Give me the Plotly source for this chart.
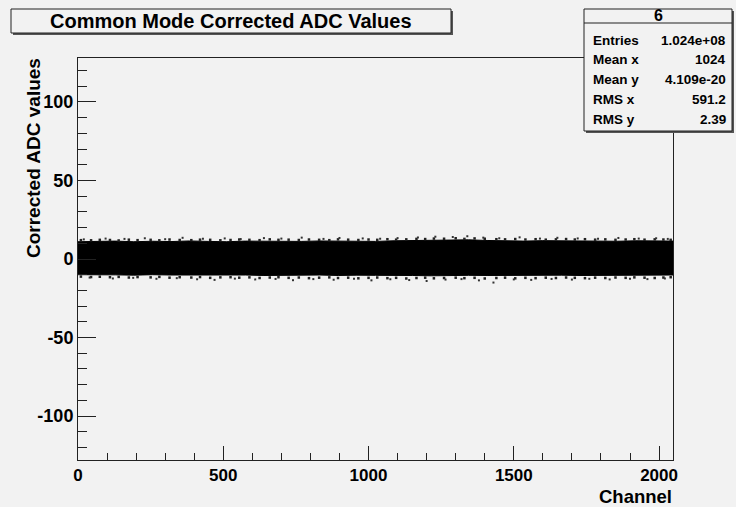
import plotly.graph_objects as go

# ---- data ----
env_channel = [0, 64, 128, 192, 256, 320, 384, 448, 512, 576, 640, 704, 768, 832, 896, 960,
               1024, 1088, 1152, 1216, 1280, 1344, 1408, 1472, 1536, 1600, 1664, 1728, 1792,
               1856, 1920, 1984, 2048]
env_upper = [11.0, 11.2, 11.4, 11.0, 11.3, 11.1, 11.5, 11.2, 11.0, 11.4, 11.3, 11.6, 11.2, 11.5,
             11.3, 11.4, 11.2, 11.6, 11.8, 12.0, 11.9, 12.2, 11.8, 11.6, 11.4, 11.7, 11.5, 11.6,
             11.4, 11.3, 11.6, 11.5, 11.4]
env_lower = [-10.0, -10.2, -10.1, -10.3, -10.0, -10.2, -10.4, -10.1, -10.3, -10.2, -10.5, -10.3,
             -10.4, -10.2, -10.5, -10.3, -10.4, -10.6, -10.5, -10.7, -10.6, -10.4, -10.5, -10.3,
             -10.6, -10.4, -10.3, -10.5, -10.4, -10.2, -10.4, -10.3, -10.2]
out_channel = [20, 95, 160, 230, 300, 360, 430, 505, 560, 640, 700, 770, 845, 900, 980, 1040,
               1100, 1170, 1230, 1290, 1340, 1395, 1450, 1520, 1590, 1650, 1720, 1790, 1860,
               1930, 1990, 2030,
               40, 120, 190, 270, 340, 410, 470, 540, 610, 680, 740, 810, 880, 950, 1010, 1075,
               1140, 1200, 1265, 1320, 1380, 1430, 1500, 1560, 1630, 1700, 1760, 1830, 1900,
               1960, 2020]
out_value = [12.5, 13.0, 12.8, 13.2, 12.6, 13.5, 12.9, 13.1, 12.7, 13.3, 13.0, 13.6, 12.8, 13.4,
             13.1, 12.9, 13.3, 13.7, 14.2, 14.0, 14.5, 13.6, 13.2, 13.8, 13.0, 13.5, 13.1, 12.9,
             13.4, 13.0, 13.2, 12.8,
             -11.8, -12.4, -12.0, -12.6, -12.2, -12.9, -13.3, -12.5, -13.0, -12.7, -13.5, -12.8,
             -13.2, -12.6, -13.6, -12.9, -13.4, -14.0, -13.1, -12.8, -13.6, -15.0, -13.0,
             -13.3, -12.7, -13.1, -12.6, -13.0, -12.5, -12.8, -12.4]
edge_channel = [10, 45, 75, 110, 140, 175, 205, 250, 280, 315, 350, 390, 420, 455, 490, 525,
                555, 590, 625, 660, 690, 725, 760, 795, 830, 865, 895, 930, 965, 1000, 1030,
                1065, 1095, 1130, 1165, 1195, 1225, 1260, 1300, 1330, 1365, 1400, 1440, 1470,
                1505, 1540, 1575, 1610, 1645, 1680, 1710, 1745, 1780, 1815, 1850, 1885, 1915,
                1950, 1985, 2015, 2040]
edge_upper = [12.0, 11.9, 12.2, 12.1, 11.8, 12.3, 12.0, 12.2, 11.9, 12.4, 12.1, 12.0, 12.3, 12.2,
              11.9, 12.1, 12.4, 12.2, 12.0, 12.5, 12.2, 12.3, 12.1, 12.4, 12.2, 12.0, 12.5, 12.3,
              12.1, 12.4, 12.2, 12.6, 12.3, 12.5, 12.8, 12.7, 13.0, 12.9, 13.2, 12.8, 13.1,
              12.9, 12.6, 12.5, 12.7, 12.4, 12.6, 12.3, 12.5, 12.7, 12.4, 12.6, 12.3, 12.5,
              12.2, 12.4, 12.6, 12.3, 12.5, 12.4, 12.2]
edge_lower = [-11.2, -11.5, -11.3, -11.6, -11.4, -11.8, -11.5, -11.7, -11.4, -11.9, -11.6, -11.8,
              -11.5, -12.0, -11.7, -11.6, -11.9, -11.7, -12.1, -11.8, -11.6, -12.0, -11.8,
              -12.2, -11.9, -11.7, -12.1, -11.9, -12.3, -12.0, -11.8, -12.2, -12.0, -12.4,
              -12.1, -11.9, -12.3, -12.1, -11.9, -12.2, -12.0, -12.4, -12.1, -11.9, -12.3,
              -12.0, -12.2, -11.9, -12.1, -11.8, -12.0, -12.2, -11.9, -12.1, -11.8, -12.0,
              -11.7, -11.9, -12.1, -11.8, -11.6]

x_range = [0, 2048]
y_range = [-128, 128]
x_major = [0, 500, 1000, 1500, 2000]
y_major = [-100, -50, 0, 50, 100]

stats_labels = ["Entries", "Mean x", "Mean y", "RMS x", "RMS y"]
stats_values = ["1.024e+08", "1024", "4.109e-20", "591.2", "2.39"]
stats_title = "6"
title_text = "Common Mode Corrected ADC Values"

# ---- layout geometry (pixels) ----
W, H = 736, 507
L, R, T, B = 78, 673, 58, 460
BG = "#f2f2f2"
FONT = "Liberation Sans, Arial, sans-serif"


def px(x):
    return (x - L) / (R - L)


def py(y):
    return (B - y) / (B - T)


fig = go.Figure()
fig.add_trace(go.Scatter(
    x=env_channel + env_channel[::-1],
    y=env_upper + env_lower[::-1],
    fill="toself", fillcolor="black", mode="lines",
    line=dict(color="black", width=1), hoverinfo="skip", showlegend=False))
fig.add_trace(go.Scatter(
    x=edge_channel + edge_channel, y=edge_upper + edge_lower, mode="markers",
    marker=dict(color="#222222", size=2.5, symbol="square"), hoverinfo="skip", showlegend=False))
fig.add_trace(go.Scatter(
    x=out_channel, y=out_value, mode="markers",
    marker=dict(color="#333333", size=2, symbol="square"), hoverinfo="skip", showlegend=False))

shapes = []
# title box with shadow
shapes.append(dict(type="rect", xref="paper", yref="paper", x0=px(13), x1=px(453), y0=py(35), y1=py(11),
                   fillcolor="#555555", line=dict(width=0), layer="above"))
shapes.append(dict(type="rect", xref="paper", yref="paper", x0=px(11), x1=px(451), y0=py(33), y1=py(9),
                   fillcolor=BG, line=dict(color="#222222", width=1), layer="above"))
# stats box with shadow
shapes.append(dict(type="rect", xref="paper", yref="paper", x0=px(586), x1=px(734), y0=py(133), y1=py(11),
                   fillcolor="#555555", line=dict(width=0), layer="above"))
shapes.append(dict(type="rect", xref="paper", yref="paper", x0=px(584), x1=px(732), y0=py(131), y1=py(9),
                   fillcolor=BG, line=dict(color="#222222", width=1), layer="above"))
shapes.append(dict(type="line", xref="paper", yref="paper", x0=px(584), x1=px(732), y0=py(23), y1=py(23),
                   line=dict(color="#222222", width=1), layer="above"))

ann = []
ann.append(dict(x=px(231), y=py(21), xref="paper", yref="paper", text=f"<b>{title_text}</b>",
                showarrow=False, xanchor="center", yanchor="middle",
                font=dict(family=FONT, size=20, color="black")))
ann.append(dict(x=px(658), y=py(16), xref="paper", yref="paper", text=f"<b>{stats_title}</b>",
                showarrow=False, xanchor="center", yanchor="middle",
                font=dict(family=FONT, size=16, color="black")))
row_y = [41, 60, 80, 100, 119]
for lab, val, yy in zip(stats_labels, stats_values, row_y):
    ann.append(dict(x=px(591), y=py(yy), xref="paper", yref="paper", text=f"<b>{lab}</b>",
                    showarrow=False, xanchor="left", yanchor="middle",
                    font=dict(family=FONT, size=13.5, color="black")))
    ann.append(dict(x=px(728), y=py(yy), xref="paper", yref="paper", text=f"<b>{val}</b>",
                    showarrow=False, xanchor="right", yanchor="middle",
                    font=dict(family=FONT, size=13.5, color="black")))
ann.append(dict(x=px(33), y=py(158), xref="paper", yref="paper", text="<b>Corrected ADC values</b>",
                showarrow=False, xanchor="center", yanchor="middle", textangle=-90,
                font=dict(family=FONT, size=19, color="black")))
ann.append(dict(x=px(674), y=py(496), xref="paper", yref="paper", text="<b>Channel</b>",
                showarrow=False, xanchor="right", yanchor="middle",
                font=dict(family=FONT, size=18.5, color="black")))

fig.update_layout(
    width=W, height=H,
    margin=dict(l=L, r=W - R, t=T, b=H - B, pad=0),
    paper_bgcolor=BG, plot_bgcolor=BG,
    shapes=shapes, annotations=ann, showlegend=False,
    xaxis=dict(range=x_range, tickvals=x_major, ticktext=[f"<b>{v}</b>" for v in x_major],
               ticks="inside", ticklen=14, tickwidth=1, tickcolor="#222222",
               showline=True, linecolor="#222222", linewidth=1, mirror=True,
               showgrid=False, zeroline=False,
               minor=dict(dtick=100, tick0=0, ticks="inside", ticklen=7, tickcolor="#222222", showgrid=False),
               tickfont=dict(family=FONT, size=17, color="black")),
    yaxis=dict(range=y_range, tickvals=y_major, ticktext=[f"<b>{v}</b>" for v in y_major],
               ticks="inside", ticklen=18, tickwidth=1, tickcolor="#222222",
               showline=True, linecolor="#222222", linewidth=1, mirror=True,
               showgrid=False, zeroline=False,
               minor=dict(dtick=10, tick0=0, ticks="inside", ticklen=9, tickcolor="#222222", showgrid=False),
               tickfont=dict(family=FONT, size=18, color="black")),
)

fig.write_html("out.html")
